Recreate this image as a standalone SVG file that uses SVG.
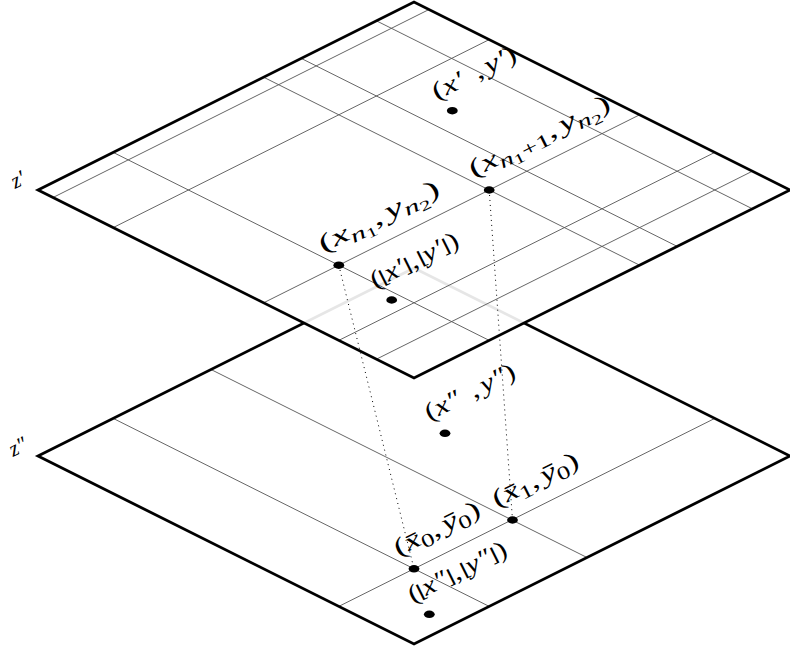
<svg xmlns="http://www.w3.org/2000/svg" width="790" height="652" viewBox="0 0 790 652">
<style>
.pfill{fill:#fff;fill-opacity:0.9;stroke:none}
.grid{stroke:#555;stroke-width:0.9;fill:none;vector-effect:non-scaling-stroke}
.border{fill:none;stroke:#000;stroke-width:2.8;stroke-linejoin:miter;stroke-miterlimit:10;vector-effect:non-scaling-stroke}
.dot{fill:#000}
.t{font-family:"Liberation Serif","DejaVu Serif",serif;font-size:25px;fill:#000}
.z{font-family:"Liberation Serif","DejaVu Serif",serif;font-size:22px;font-style:italic;fill:#000}
.i{font-style:italic}
.s{font-size:19px}
.ss{font-size:14px}
.fl{font-family:"DejaVu Serif",serif;font-size:19px;font-weight:300}
.link{stroke:#000;stroke-width:1;stroke-dasharray:1 4;fill:none}
</style>
<rect width="790" height="652" fill="#fff"/>
<g id="plane-bottom">
<g transform="matrix(1,-0.5,1,0.5,38,456)">
<rect class="pfill" width="376" height="376"/>
<path class="grid" d="M75.2 0V376M173 0V376M0 300.8H376"/>
<rect class="border" width="376" height="376"/>
</g>
<text class="z" transform="translate(21,453) rotate(-26.565)" text-anchor="middle">z″</text>
</g>
<g id="node-xbar1">
<ellipse class="dot" cx="512.5" cy="520" rx="5.4" ry="3.7"/>
<text class="t" transform="translate(496.9,507.6) rotate(-26.565) scale(1.2,1)" textLength="78" lengthAdjust="spacingAndGlyphs">(<tspan class="i">x̄</tspan><tspan class="s" dy="5">1</tspan><tspan dy="-5">,</tspan><tspan class="i" dx="3">ȳ</tspan><tspan class="s" dy="5">0</tspan><tspan dy="-5">)</tspan></text>
</g>
<g id="node-xbar0">
<ellipse class="dot" cx="414" cy="568.8" rx="5.4" ry="3.7"/>
<text class="t" transform="translate(398.4,556.4) rotate(-26.565) scale(1.2,1)" textLength="78" lengthAdjust="spacingAndGlyphs">(<tspan class="i">x̄</tspan><tspan class="s" dy="5">0</tspan><tspan dy="-5">,</tspan><tspan class="i" dx="3">ȳ</tspan><tspan class="s" dy="5">0</tspan><tspan dy="-5">)</tspan></text>
</g>
<g id="node-xpp">
<ellipse class="dot" cx="445" cy="433.3" rx="5.4" ry="3.7"/>
<text class="t" transform="translate(429.4,420.9) rotate(-26.565) scale(1.2,1)" textLength="82" lengthAdjust="spacingAndGlyphs">(<tspan class="i">x″</tspan><tspan dx="10">,</tspan><tspan class="i" dx="3">y″</tspan>)</text>
</g>
<g id="node-xpp-floor">
<ellipse class="dot" cx="429.3" cy="614.3" rx="5.4" ry="3.7"/>
<text class="t" transform="translate(412.7,602.9) rotate(-26.565) scale(1.2,1)">(<tspan class="fl" dx="-1">⌊</tspan><tspan class="i" dx="-2">x″</tspan><tspan class="fl" dx="-1">⌋</tspan>,<tspan class="fl" dx="1">⌊</tspan><tspan class="i" dx="-2">y″</tspan><tspan class="fl" dx="-1">⌋</tspan>)</text>
</g>
<g id="plane-top">
<g transform="matrix(1,-0.5,1,0.5,38,190)">
<rect class="pfill" width="376" height="376"/>
<path class="grid" d="M75.2 0V376M225.6 0V376M263.2 0V376M338.4 0V376M0 15H376M0 75.2H376M0 225.6H376M0 300.8H376M0 338.4H376"/>
<rect class="border" width="376" height="376"/>
</g>
<text class="z" transform="translate(21,186) rotate(-26.565)" text-anchor="middle">z′</text>
</g>
<g id="node-xp">
<ellipse class="dot" cx="452.3" cy="110.7" rx="5.4" ry="3.7"/>
<text class="t" transform="translate(436.7,100.3) rotate(-26.565) scale(1.2,1)" textLength="76" lengthAdjust="spacingAndGlyphs">(<tspan class="i">x′</tspan><tspan dx="10">,</tspan><tspan class="i" dx="3">y′</tspan>)</text>
</g>
<g id="node-xn1n2">
<ellipse class="dot" cx="338.8" cy="265.2" rx="5.4" ry="3.7"/>
<text class="t" transform="translate(323.2,252.8) rotate(-26.565) scale(1.2,1)" textLength="110" lengthAdjust="spacingAndGlyphs">(<tspan class="i">x</tspan><tspan class="i s" dy="5">n</tspan><tspan class="ss" dy="3">1</tspan><tspan dy="-8">,</tspan><tspan class="i" dx="3">y</tspan><tspan class="i s" dy="5">n</tspan><tspan class="ss" dy="3">2</tspan><tspan dy="-8">)</tspan></text>
</g>
<g id="node-xn1p1n2">
<ellipse class="dot" cx="489.2" cy="190" rx="5.4" ry="3.7"/>
<text class="t" transform="translate(473.6,177.6) rotate(-26.565) scale(1.2,1)" textLength="129" lengthAdjust="spacingAndGlyphs">(<tspan class="i">x</tspan><tspan class="i s" dy="5">n</tspan><tspan class="ss" dy="3">1</tspan><tspan class="s" dy="-3">+1</tspan><tspan dy="-5">,</tspan><tspan class="i" dx="3">y</tspan><tspan class="i s" dy="5">n</tspan><tspan class="ss" dy="3">2</tspan><tspan dy="-8">)</tspan></text>
</g>
<g id="node-xp-floor">
<ellipse class="dot" cx="391.7" cy="300" rx="5.4" ry="3.7"/>
<text class="t" transform="translate(375.1,288.6) rotate(-26.565) scale(1.2,1)">(<tspan class="fl" dx="-1">⌊</tspan><tspan class="i" dx="-2">x′</tspan><tspan class="fl" dx="-1">⌋</tspan>,<tspan class="fl" dx="1">⌊</tspan><tspan class="i" dx="-2">y′</tspan><tspan class="fl" dx="-1">⌋</tspan>)</text>
</g>
<g id="connectors">
<line class="link" x1="338.8" y1="265.2" x2="414" y2="568.8"/>
<line class="link" x1="489.2" y1="190" x2="512.5" y2="520"/>
</g>
</svg>
